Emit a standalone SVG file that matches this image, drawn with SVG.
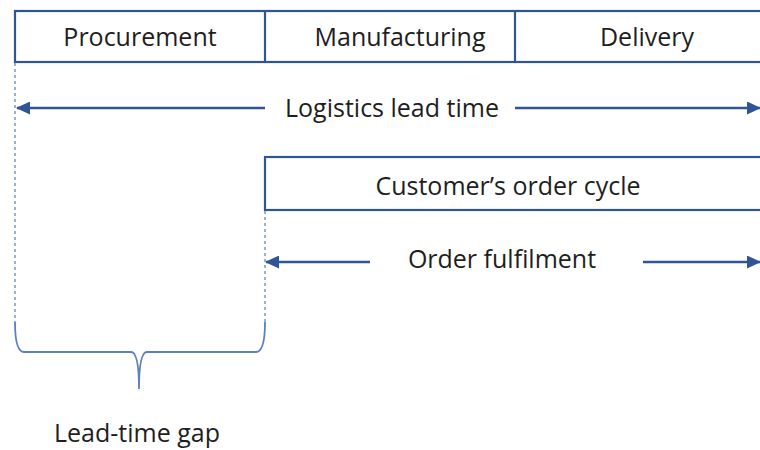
<svg xmlns="http://www.w3.org/2000/svg" width="760" height="450" viewBox="0 0 760 450">
  <style>
    .box { fill: #ffffff; stroke: #2f5597; stroke-width: 2.2; }
    .div { stroke: #2f5597; stroke-width: 2.2; }
    .lbl { font-family: "Open Sans", "Liberation Sans", sans-serif; font-size: 25px; fill: #1e1e1e; text-anchor: middle; }
    .arrow { stroke: #2f5597; stroke-width: 2.4; fill: none; }
    .guide { stroke: #7f9fd6; stroke-width: 1.6; stroke-dasharray: 3 3; fill: none; }
    .brace { stroke: #5b7fc0; stroke-width: 1.8; fill: none; }
  </style>
  <defs>
    <marker id="ah" markerUnits="userSpaceOnUse" markerWidth="14" markerHeight="13" refX="13" refY="6.5" orient="auto-start-reverse">
      <path d="M0,0 L14,6.5 L0,13 z" fill="#2f5597"/>
    </marker>
  </defs>
  <rect width="760" height="450" fill="#ffffff"/>

  <g id="phases">
    <rect class="box" x="15" y="11" width="760" height="51"/>
    <line class="div" x1="265" y1="11" x2="265" y2="62"/>
    <line class="div" x1="515" y1="11" x2="515" y2="62"/>
  </g>
  <g id="procurement"><text class="lbl" x="140" y="46">Procurement</text></g>
  <g id="manufacturing"><text class="lbl" x="400" y="46">Manufacturing</text></g>
  <g id="delivery"><text class="lbl" x="647" y="46">Delivery</text></g>

  <g id="order-cycle">
    <rect class="box" x="265" y="157" width="510" height="53"/>
    <text class="lbl" x="508" y="195">Customer’s order cycle</text>
  </g>

  <g id="logistics-lead-time"><text class="lbl" x="392" y="117">Logistics lead time</text></g>
  <g id="order-fulfilment"><text class="lbl" x="502" y="268">Order fulfilment</text></g>
  <g id="lead-time-gap"><text class="lbl" x="137" y="442">Lead-time gap</text></g>

  <g id="connectors">
    <line class="arrow" x1="265" y1="108" x2="17" y2="108" marker-end="url(#ah)"/>
    <line class="arrow" x1="515" y1="108" x2="760" y2="108" marker-end="url(#ah)"/>
    <line class="arrow" x1="370" y1="262" x2="266" y2="262" marker-end="url(#ah)"/>
    <line class="arrow" x1="643" y1="262" x2="760" y2="262" marker-end="url(#ah)"/>
    <line class="guide" x1="15" y1="63" x2="15" y2="322"/>
    <line class="guide" x1="265" y1="211" x2="265" y2="322"/>
    <path class="brace" d="M15,322 Q15,352 24,352 H131 Q139,352 139,389 Q139,352 147,352 H256 Q265,352 265,322"/>
  </g>
</svg>
